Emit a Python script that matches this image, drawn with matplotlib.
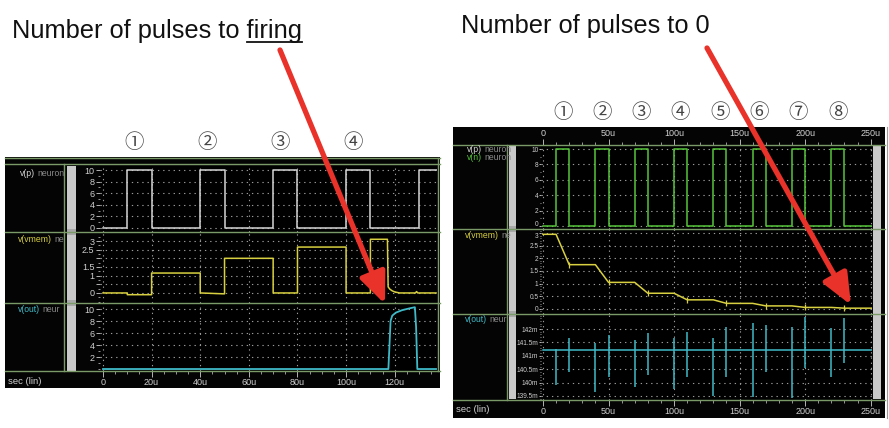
import matplotlib
matplotlib.use("Agg")
import matplotlib.pyplot as plt
from matplotlib.patches import Rectangle
from matplotlib.ticker import MultipleLocator, FixedLocator, FixedFormatter
from matplotlib.transforms import blended_transform_factory

W, H = 889, 428

# ---- left screenshot: pulses until the neuron fires ----
left_pulse_start = [10, 40, 70, 100, 130]
left_pulse_width = 10
left_pulse_high = 10
left_vmem_t = [0, 10, 10, 20, 20, 40, 40, 49.5, 50, 50, 70, 70, 80, 80, 100, 100, 110, 110,
               117, 117.3, 118, 119, 120, 122, 128.5, 129, 129.5, 137]
left_vmem_v = [0, 0, -0.1, -0.1, 1.15, 1.15, 0, -0.05, -0.05, 2.0, 2.0, 0, 0, 2.65, 2.65, 0, 0, 3.1,
               3.1, 0.35, 0.22, 0.12, 0.06, 0.0, 0.0, 0.08, 0.0, 0.0]
left_out_t = [0, 117.4, 117.8, 118.3, 119, 120.5, 123, 126, 128.3, 128.8, 129.3, 137]
left_out_v = [0, 0, 3.5, 8.0, 8.9, 9.4, 9.8, 10.1, 10.3, 7.0, 0, 0]
left_marks = ["①", "②", "③", "④"]

# ---- right screenshot: pulses until vmem reaches 0 ----
right_pulse_start = [10, 40, 70, 100, 130, 160, 190, 220]
right_pulse_width = 10
right_pulse_high = 10
right_vmem_hold = [2.95, 1.75, 1.05, 0.62, 0.36, 0.22, 0.12, 0.06, 0.03]
right_out_base = 141.22
right_spike_t = [10, 20, 40, 50, 70, 80, 100, 110, 130, 140, 160, 170, 190, 200, 220, 230]
right_spike_hi = [141.25, 141.66, 141.48, 141.78, 141.59, 141.85, 141.66, 141.89,
                  141.66, 142.07, 142.22, 142.15, 142.07, 142.45, 142.04, 142.41]
right_spike_lo = [139.91, 140.40, 139.65, 140.21, 139.84, 140.28, 139.76, 140.21,
                  139.50, 140.21, 139.46, 140.40, 139.43, 140.54, 140.21, 140.73]
right_marks = ["①", "②", "③", "④", "⑤", "⑥", "⑦", "⑧"]

vmem_left_ticks = [0, 0.5, 1, 1.5, 2, 2.5, 3]
vmem_left_labels = ["0", "", "1", "1.5", "", "2.5", "3"]

GREEN_SEP = "#7a9a68"
GRID = "#9a9a9a"
TICK = "#d0d0d0"
WHITE_LINE = "#d6d6d6"
GREEN = "#55c43a"
YELLOW = "#d8d040"
CYAN = "#3fbac8"
RED = "#e8322a"
FONT = ["Liberation Sans", "DejaVu Sans"]

plt.rcParams["font.family"] = FONT


def box(x0, y0, x1, y1):
    return [x0 / W, 1 - y1 / H, (x1 - x0) / W, (y1 - y0) / H]


def pulse_wave(starts, width, high, t_end):
    t, v = [0], [0]
    for s in starts:
        t += [s, s, s + width, s + width]
        v += [0, high, high, 0]
    t.append(t_end)
    v.append(0)
    return t, v


def decay_wave(starts, width, holds, t_end):
    t, v = [0], [holds[0]]
    for i, s in enumerate(starts):
        t += [s, s + width]
        v += [holds[i], holds[i + 1]]
    t.append(t_end)
    v.append(holds[-1])
    return t, v


def style(ax, xlim, ylim, xmajor, xminor, yticks, ylabels, yminor=None, size=6.5, pad=1, tl=3):
    ax.set_facecolor("black")
    ax.set_xlim(xlim)
    ax.set_ylim(ylim)
    for s in ax.spines.values():
        s.set_visible(False)
    ax.xaxis.set_major_locator(MultipleLocator(xmajor))
    ax.xaxis.set_minor_locator(MultipleLocator(xminor))
    ax.yaxis.set_major_locator(FixedLocator(yticks))
    ax.yaxis.set_major_formatter(FixedFormatter(ylabels))
    if yminor:
        ax.yaxis.set_minor_locator(MultipleLocator(yminor))
    ax.tick_params(axis="y", which="both", colors=TICK, labelsize=size, pad=pad, direction="out")
    ax.tick_params(axis="y", which="major", length=tl, width=0.6)
    ax.tick_params(axis="y", which="minor", length=tl / 2, width=0.5)
    ax.tick_params(axis="x", which="both", bottom=False, top=False,
                   labelbottom=False, labeltop=False)
    ax.grid(True, which="major", color=GRID, linestyle=(0, (1.2, 3.5)), linewidth=0.8)
    ax.set_axisbelow(True)


def xfmt(v, pos):
    return "0" if abs(v) < 1e-9 else "%du" % round(v)


def show_xlabels(ax, where):
    ax.xaxis.set_major_formatter(plt.FuncFormatter(xfmt))
    kw = {"colors": TICK, "labelsize": 6.5, "pad": 1, "direction": "out"}
    if where == "bottom":
        ax.tick_params(axis="x", which="both", bottom=True, labelbottom=True, **kw)
    else:
        ax.tick_params(axis="x", which="both", top=True, labeltop=True, **kw)
    ax.tick_params(axis="x", which="major", length=4, width=0.6)
    ax.tick_params(axis="x", which="minor", length=2.5, width=0.5)


fig = plt.figure(figsize=(W / 100, H / 100), dpi=100)
fig.patch.set_facecolor("white")


def rect(x0, y0, x1, y1, color, z=-2):
    fig.add_artist(Rectangle((x0 / W, 1 - y1 / H), (x1 - x0) / W, (y1 - y0) / H,
                             transform=fig.transFigure, facecolor=color,
                             edgecolor="none", zorder=z))


def hline(y, x0, x1, color=GREEN_SEP, lw=1.0):
    fig.add_artist(plt.Line2D([x0 / W, x1 / W], [1 - y / H, 1 - y / H],
                              transform=fig.transFigure, color=color, lw=lw, zorder=5))


def vline(x, y0, y1, color=GREEN_SEP, lw=1.0):
    fig.add_artist(plt.Line2D([x / W, x / W], [1 - y0 / H, 1 - y1 / H],
                              transform=fig.transFigure, color=color, lw=lw, zorder=5))


def chain(x, y, parts, size=6.2):
    r = fig.canvas.get_renderer()
    for txt, col in parts:
        t = fig.text(x / W, 1 - y / H, txt, color=col, fontsize=size, va="center", zorder=6)
        x = t.get_window_extent(r).x1 + 2


# screenshot backgrounds
rect(5, 157, 440, 388, "#040404", -3)
rect(453, 127, 885, 418, "#040404", -3)

# ---------------- left screenshot ----------------
xl = (-1.23, 137.4)
axL1 = fig.add_axes(box(100, 166, 437, 232))
axL2 = fig.add_axes(box(100, 232, 437, 303))
axL3 = fig.add_axes(box(100, 303, 437, 371))

t, v = pulse_wave(left_pulse_start, left_pulse_width, left_pulse_high, 140)
style(axL1, xl, (-0.7, 10.7), 20, 5, [0, 2, 4, 6, 8, 10], ["0", "2", "4", "6", "8", "10"], 1)
axL1.plot(t, v, color=WHITE_LINE, lw=1.1)

style(axL2, xl, (-0.58, 3.52), 20, 5, vmem_left_ticks, vmem_left_labels, 0.25)
axL2.plot(left_vmem_t, left_vmem_v, color=YELLOW, lw=1.1)

style(axL3, xl, (-0.33, 11.0), 20, 5, [2, 4, 6, 8, 10], ["2", "4", "6", "8", "10"], 1)
axL3.plot(left_out_t, left_out_v, color=CYAN, lw=1.3)
show_xlabels(axL3, "bottom")

for y in [158, 164, 232, 303, 371]:
    hline(y, 5, 440)
vline(64, 164, 371)
vline(438, 158, 371)
rect(67, 166, 76, 371, "#c9c9c9")
for y in [232, 303]:
    rect(67, y - 3, 76, y + 3, "#a8a8a8", -1)

chain(20, 173, [("v(p)", "#d8d8d8"), ("neuron", "#8a8a8a")])
chain(18, 240, [("v(vmem)", YELLOW), ("ne", "#8a8a8a")])
chain(18, 309, [("v(out)", CYAN), ("neur", "#8a8a8a")])
fig.text(8 / W, 1 - 381 / H, "sec (lin)", color="#d0d0d0", fontsize=6.8, va="center")

trL = blended_transform_factory(axL1.transData, fig.transFigure)
for i, m in enumerate(left_marks):
    c = left_pulse_start[i] + left_pulse_width / 2
    fig.text(c - 2, 1 - 142 / H, m, transform=trL, ha="center", va="center",
             fontsize=14, color="#444444", family=["Noto Sans CJK JP", "DejaVu Sans"])

# ---------------- right screenshot ----------------
xr = (-1.5, 251.0)
axR1 = fig.add_axes(box(541, 145, 872, 229))
axR2 = fig.add_axes(box(541, 229, 872, 314))
axR3 = fig.add_axes(box(541, 314, 872, 400))
rk = {"size": 4.7, "pad": 0.3, "tl": 1.6}

t, v = pulse_wave(right_pulse_start, right_pulse_width, right_pulse_high, 255)
style(axR1, xr, (-0.39, 10.52), 50, 10, [0, 2, 4, 6, 8, 10], ["0", "2", "4", "6", "8", "10"],
      1, **rk)
axR1.plot(t, v, color=GREEN, lw=1.1)
show_xlabels(axR1, "top")

t, v = decay_wave(right_pulse_start, right_pulse_width, right_vmem_hold, 255)
style(axR2, xr, (-0.2, 3.16), 50, 10, [0, 0.5, 1, 1.5, 2, 2.5, 3],
      ["0", "0.5", "1", "1.5", "2", "2.5", "3"], 0.1, **rk)
axR2.plot(t, v, color=YELLOW, lw=1.1)
ends = [s + right_pulse_width for s in right_pulse_start]
axR2.plot(ends, right_vmem_hold[1:], ls="none", marker="|", ms=4, mew=0.9, color=YELLOW)

style(axR3, xr, (139.35, 142.56), 50, 10, [139.5, 140, 140.5, 141, 141.5, 142],
      ["139.5m", "140m", "140.5m", "141m", "141.5m", "142m"], 0.1, **rk)
axR3.plot([0, 255], [right_out_base, right_out_base], color=CYAN, lw=1.1)
axR3.vlines(right_spike_t, right_spike_lo, right_spike_hi, color=CYAN, lw=1.1)
show_xlabels(axR3, "bottom")

# keep the "0" of the pulse panel clear of the "3" just below it
fig.canvas.draw()
axR1.get_yticklabels()[0].set_va("baseline")
axR2.get_yticklabels()[-1].set_va("top")

for y in [145, 229, 314, 400]:
    hline(y, 453, 885)
vline(507, 145, 400)
rect(509, 146, 516, 399, "#c9c9c9")
rect(873, 146, 881, 399, "#c9c9c9")
for y in [229, 314]:
    rect(509, y - 3, 516, y + 3, "#a8a8a8", -1)
vline(887, 127, 418, "#9a9a9a", 0.8)

chain(467, 149, [("v(p)", "#d8d8d8"), ("neuron", "#8a8a8a")])
chain(467, 158, [("v(n)", GREEN), ("neuron", "#8a8a8a")])
chain(465, 235, [("v(vmem)", YELLOW), ("ne", "#8a8a8a")])
chain(465, 320, [("v(out)", CYAN), ("neur", "#8a8a8a")])
fig.text(456 / W, 1 - 410 / H, "sec (lin)", color="#d0d0d0", fontsize=6.8, va="center")

trR = blended_transform_factory(axR1.transData, fig.transFigure)
for i, m in enumerate(right_marks):
    c = right_pulse_start[i] + right_pulse_width / 2
    fig.text(c, 1 - 113 / H, m, transform=trR, ha="center", va="center",
             fontsize=14, color="#444444", family=["Noto Sans CJK JP", "DejaVu Sans"])

# ---------------- titles and arrows ----------------
TS = 18.3
tl = fig.text(12 / W, 1 - 31 / H, "Number of pulses to firing", fontsize=TS, va="center",
              color="#111111")
fig.text(461 / W, 1 - 26 / H, "Number of pulses to 0", fontsize=TS, va="center",
         color="#111111")

r = fig.canvas.get_renderer()
full = tl.get_window_extent(r)
tmp = fig.text(0, 0, "firing", fontsize=TS)
wf = tmp.get_window_extent(r).width
tmp.remove()
uy = (full.y0 + 1) / H
fig.add_artist(plt.Line2D([(full.x1 - wf) / W, full.x1 / W], [uy, uy],
                          transform=fig.transFigure, color="#111111", lw=1.3))

over = fig.add_axes([0, 0, 1, 1], zorder=20)
over.set_xlim(0, W)
over.set_ylim(H, 0)
over.axis("off")
over.patch.set_alpha(0)
arrow = dict(arrowstyle="-|>,head_length=0.75,head_width=0.32", lw=3.8, color=RED,
             mutation_scale=25, shrinkA=0, shrinkB=0)
over.annotate("", xy=(385, 304), xytext=(280, 50), arrowprops=arrow)
over.annotate("", xy=(851, 305), xytext=(707, 48), arrowprops=arrow)

fig.savefig("out.png", dpi=100)
